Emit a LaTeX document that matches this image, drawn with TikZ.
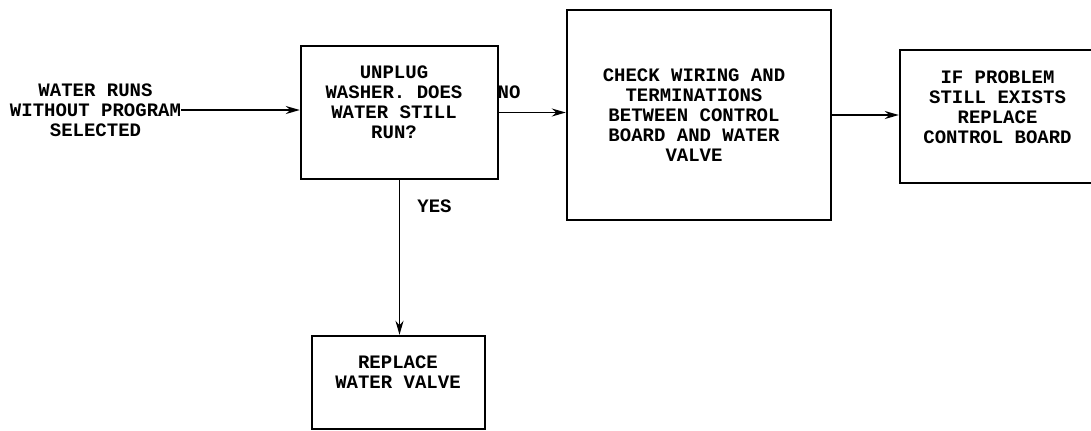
\documentclass[tikz,border=0pt]{standalone}
\usepackage{fontspec}
\setmonofont{Liberation Mono}
\usetikzlibrary{arrows.meta}
\tikzset{
  box/.style={draw, line width=1.2pt, rectangle, inner sep=0pt},
  txt/.style={font=\ttfamily\bfseries\fontsize{9.5pt}{10pt}\selectfont, align=center, inner sep=0pt},
  arr/.style={line width=0.9pt, -{Stealth[length=7pt,width=4pt]}}
}
\begin{document}
\begin{tikzpicture}[x=0.5pt,y=-0.5pt]
\useasboundingbox (0,0) rectangle (1091,430);
% boxes
\node[box, minimum width=98.5pt, minimum height=66.5pt] (b1) at (399.5,112.5) {};
\node[box, minimum width=132pt, minimum height=105pt] (b2) at (699,115) {};
\node[box, minimum width=105pt, minimum height=66.5pt] (b3) at (1005,116.5) {};
\node[box, minimum width=86.5pt, minimum height=46.5pt] (b4) at (398.5,382.5) {};
% texts
\node[txt] (s) at (95.5,110) {WATER RUNS\\WITHOUT PROGRAM\\SELECTED};
\node[txt] (t1) at (394,102) {UNPLUG\\WASHER. DOES\\WATER STILL\\RUN?};
\node[txt] (t2) at (694,115) {CHECK WIRING AND\\TERMINATIONS\\BETWEEN CONTROL\\BOARD AND WATER\\VALVE};
\node[txt] (t3) at (997.5,107) {IF PROBLEM\\STILL EXISTS\\REPLACE\\CONTROL BOARD};
\node[txt] (t4) at (398,372) {REPLACE\\WATER VALVE};
\node[txt] (no) at (509,92) {NO};
\node[txt] (yes) at (434.5,206.5) {YES};
% connectors
\draw[arr] (s.east) -- (s.east -| b1.west);
\draw[arr] (b1.east) -- (b1.east -| b2.west);
\draw[arr] (b2.east) -- (b2.east -| b3.west);
\draw[arr] (b1.south) -- (b1.south |- b4.north);
\end{tikzpicture}
\end{document}
